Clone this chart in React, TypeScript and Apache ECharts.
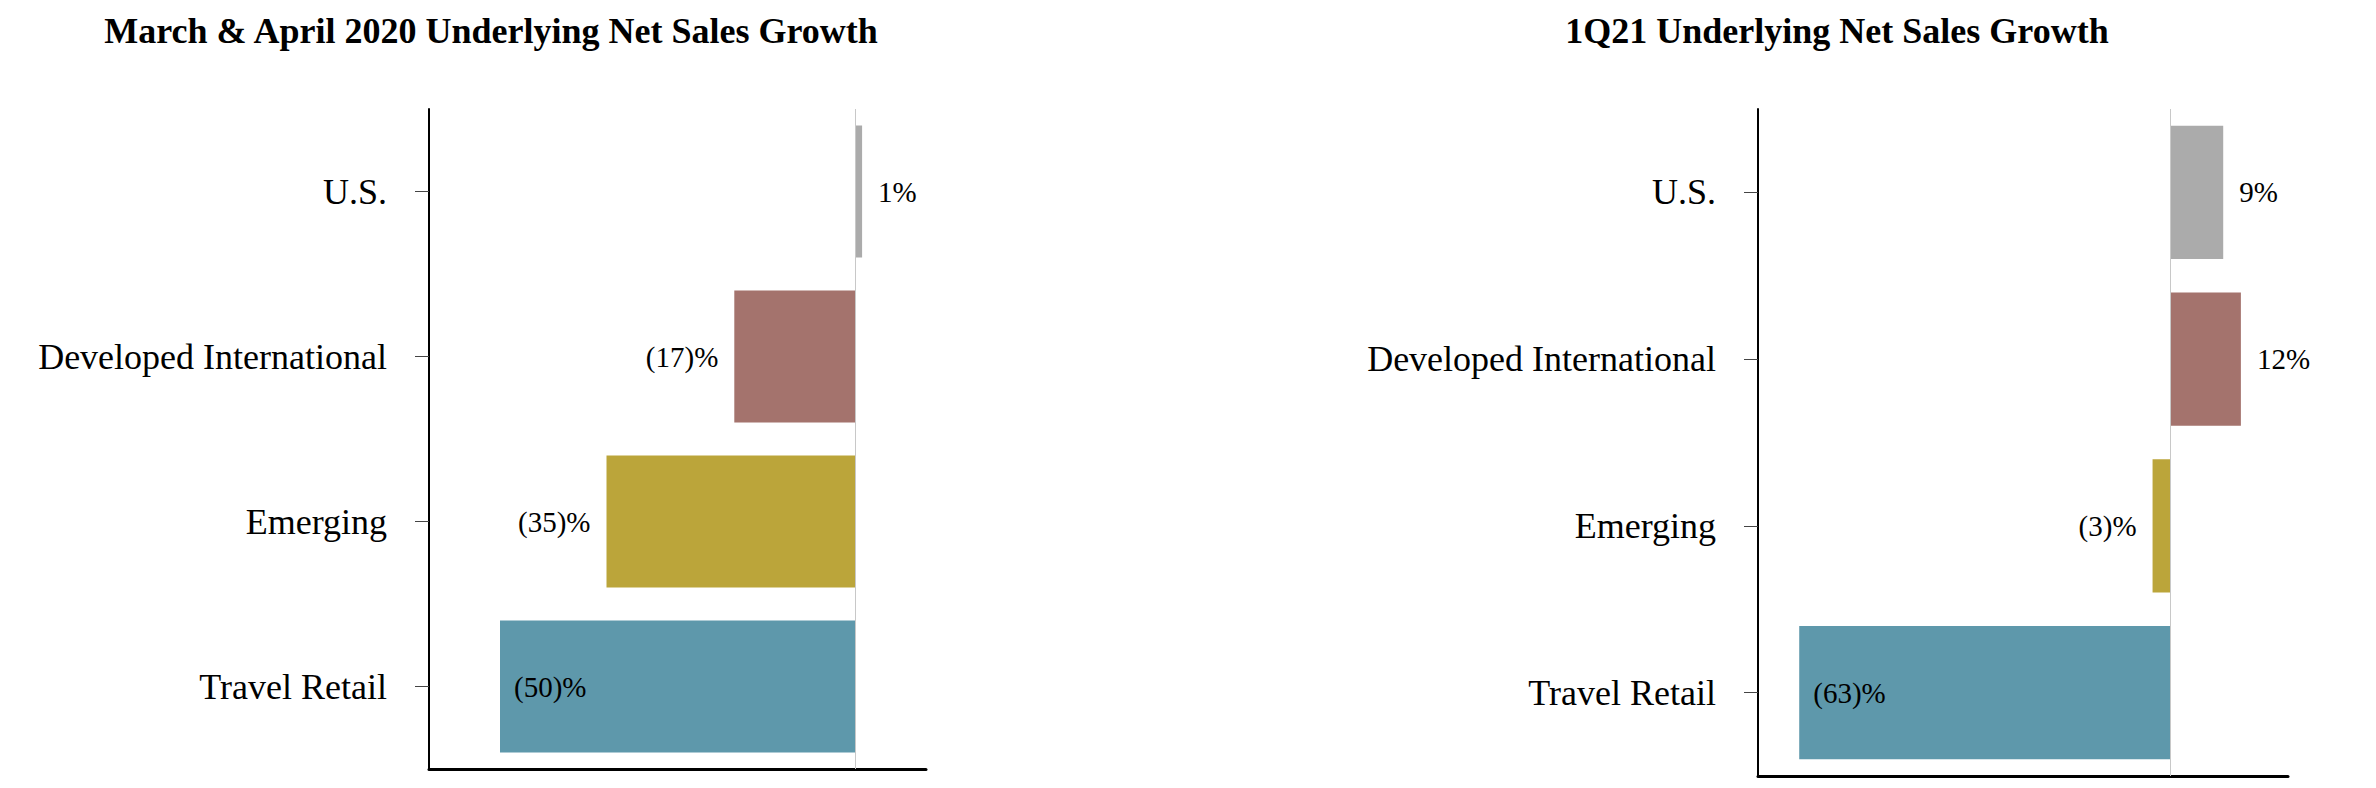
import React, { useEffect, useRef } from "react";
import * as echarts from "echarts";

const categories = ["U.S.", "Developed International", "Emerging", "Travel Retail"];
const barColors = ["#ABABAB", "#A4736D", "#BBA53A", "#5E98AB"];

const leftTitle = "March & April 2020 Underlying Net Sales Growth";
const leftValues = [1, -17, -35, -50];
const leftLabelPos = ["right", "left", "left", "insideLeft"];

const rightTitle = "1Q21 Underlying Net Sales Growth";
const rightValues = [9, 12, -3, -63];
const rightLabelPos = ["right", "right", "left", "insideLeft"];

const FONT = "'Liberation Serif', 'Times New Roman', serif";

function fmt(v: number) {
  return v < 0 ? `(${-v})%` : `${v}%`;
}

function buildSeries(values: number[], positions: string[], idx: number) {
  return {
    type: "bar",
    xAxisIndex: idx,
    yAxisIndex: idx,
    barCategoryGap: "20%",
    data: values.map((v, i) => ({
      value: v,
      itemStyle: { color: barColors[i] },
      label: {
        show: true,
        position: positions[i],
        distance: positions[i] === "insideLeft" ? 14 : 16,
      },
    })),
    label: {
      show: true,
      formatter: (p: any) => fmt(p.value),
      fontFamily: FONT,
      fontSize: 29,
      color: "#000",
    },
    markLine: {
      silent: true,
      symbol: "none",
      label: { show: false },
      lineStyle: { color: "#c8c8c8", width: 1, type: "solid" },
      data: [{ xAxis: 0 }],
    },
  };
}

function yAxis(idx: number) {
  return {
    type: "category",
    gridIndex: idx,
    data: categories,
    inverse: true,
    axisLine: { show: true, onZero: false, lineStyle: { color: "#000", width: 2 } },
    axisTick: { show: true, alignWithLabel: true, length: 14, lineStyle: { color: "#444", width: 1 } },
    axisLabel: { fontFamily: FONT, fontSize: 36, color: "#000", margin: 42 },
    splitLine: { show: false },
  };
}

function xAxis(idx: number, min: number, max: number) {
  return {
    type: "value",
    gridIndex: idx,
    min,
    max,
    axisLine: { show: true, onZero: false, lineStyle: { color: "#000", width: 3 } },
    axisTick: { show: false },
    axisLabel: { show: false },
    splitLine: { show: false },
  };
}

export default function App() {
  const ref = useRef<HTMLDivElement>(null);
  useEffect(() => {
    document.body.style.margin = "0";
    const chart = echarts.init(ref.current!, null, { renderer: "svg" });
    chart.setOption({
      animation: false,
      backgroundColor: "#fff",
      title: [
        {
          text: leftTitle,
          left: 491,
          top: 13,
          textAlign: "center",
          padding: 0,
          textStyle: { fontFamily: FONT, fontSize: 36, fontWeight: "bold", color: "#000" },
        },
        {
          text: rightTitle,
          left: 1837,
          top: 13,
          textAlign: "center",
          padding: 0,
          textStyle: { fontFamily: FONT, fontSize: 36, fontWeight: "bold", color: "#000" },
        },
      ],
      grid: [
        { left: 429, top: 109, width: 497, height: 660 },
        { left: 1758, top: 109, width: 530, height: 667 },
      ],
      xAxis: [xAxis(0, -60, 10), xAxis(1, -70, 20)],
      yAxis: [yAxis(0), yAxis(1)],
      series: [buildSeries(leftValues, leftLabelPos, 0), buildSeries(rightValues, rightLabelPos, 1)],
    });
    return () => chart.dispose();
  }, []);
  return <div ref={ref} style={{ width: 2376, height: 788 }} />;
}
